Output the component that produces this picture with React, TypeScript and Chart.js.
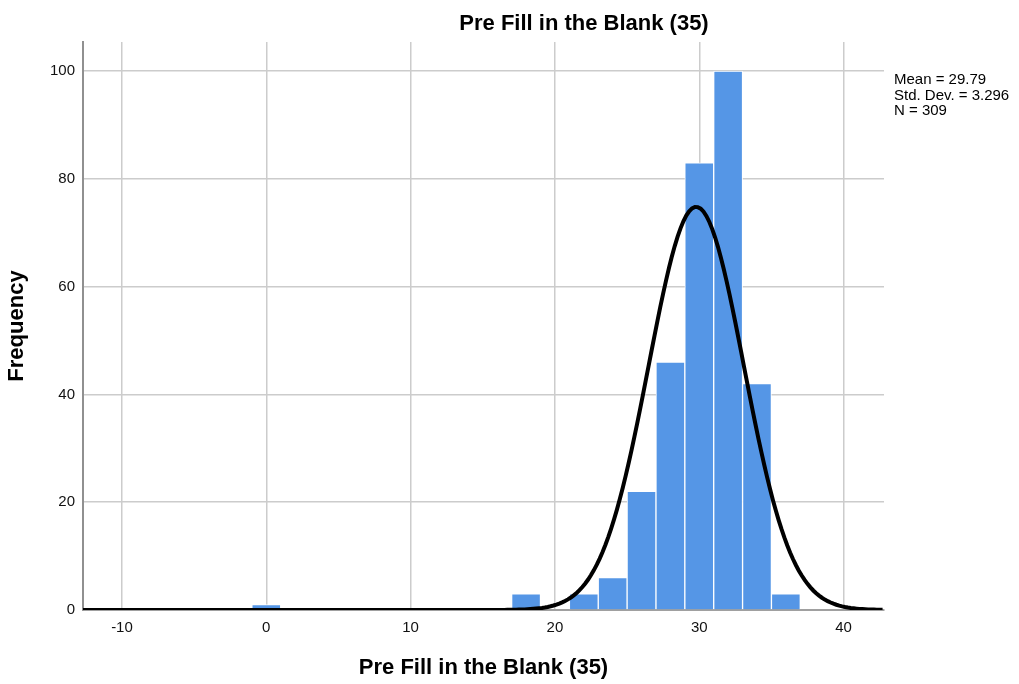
import React, { useEffect, useRef } from "react";
import { Chart, registerables } from "chart.js";

Chart.register(...registerables);

const chartTitle = "Pre Fill in the Blank (35)";
const xAxisTitle = "Pre Fill in the Blank (35)";
const yAxisTitle = "Frequency";
const binCenters = [0, 18, 22, 24, 26, 28, 30, 32, 34, 36];
const binCounts = [1, 3, 3, 6, 22, 46, 83, 100, 42, 3];
const binWidth = 2;
const mean = 29.79;
const stdDev = 3.296;
const n = 309;
const statLines = ["Mean = 29.79", "Std. Dev. = 3.296", "N = 309"];
const xMin = -12.7;
const xMax = 42.8;
const yMax = 105.4;

const FONT = "'Liberation Sans', Arial, sans-serif";

function normalCurve() {
  const pts: { x: number; y: number }[] = [];
  const k = (n * binWidth) / (stdDev * Math.sqrt(2 * Math.PI));
  for (let x = xMin; x <= xMax + 1e-9; x += 0.2) {
    const z = (x - mean) / stdDev;
    pts.push({ x, y: k * Math.exp(-0.5 * z * z) });
  }
  return pts;
}

const textPlugin = {
  id: "spssText",
  afterDraw(chart: any) {
    const ctx = chart.ctx;
    ctx.save();
    ctx.fillStyle = "#000";
    ctx.textBaseline = "alphabetic";
    ctx.textAlign = "center";
    ctx.font = `bold 22px ${FONT}`;
    ctx.fillText(chartTitle, 584, 30);
    ctx.textAlign = "left";
    ctx.font = `15px ${FONT}`;
    statLines.forEach((s, i) => ctx.fillText(s, 894, 84 + i * 15.5));
    ctx.restore();
  },
};

export default function App() {
  const ref = useRef<HTMLCanvasElement>(null);
  useEffect(() => {
    const chart = new Chart(ref.current as HTMLCanvasElement, {
      type: "bar",
      data: {
        datasets: [
          {
            type: "line",
            data: normalCurve(),
            borderColor: "#000",
            borderWidth: 4,
            pointRadius: 0,
            tension: 0,
            order: 0,
          } as any,
          {
            type: "bar",
            data: binCenters.map((x, i) => ({ x, y: binCounts[i] })),
            backgroundColor: "#5596e6",
            borderColor: "#ffffff",
            borderWidth: 1,
            borderSkipped: "bottom",
            barPercentage: 1,
            categoryPercentage: 1,
            order: 1,
          } as any,
        ],
      },
      options: {
        animation: false,
        responsive: false,
        devicePixelRatio: 1,
        layout: { padding: { top: 42, right: 135, bottom: 3, left: 4 } },
        plugins: { legend: { display: false }, tooltip: { enabled: false } },
        scales: {
          x: {
            type: "linear",
            min: xMin,
            max: xMax,
            offset: false,
            grid: { color: "#cccccc", lineWidth: 1.5, drawTicks: false, offset: false },
            border: { color: "#a0a0a0", width: 2 },
            ticks: {
              stepSize: 10,
              includeBounds: false,
              padding: 9,
              color: "#111",
              font: { family: FONT, size: 15 },
            },
            title: {
              display: true,
              text: xAxisTitle,
              color: "#000",
              font: { family: FONT, size: 22, weight: "bold" },
              padding: 0,
            },
            afterFit(scale: any) {
              scale.height = 71;
            },
          },
          y: {
            min: 0,
            max: yMax,
            grid: { color: "#cccccc", lineWidth: 1.5, drawTicks: false },
            border: { color: "#909090", width: 2 },
            ticks: {
              stepSize: 20,
              includeBounds: false,
              padding: 8,
              color: "#111",
              font: { family: FONT, size: 15 },
            },
            title: {
              display: true,
              text: yAxisTitle,
              color: "#000",
              font: { family: FONT, size: 22, weight: "bold" },
              padding: 0,
            },
            afterFit(scale: any) {
              scale.width = 79;
            },
          },
        },
      } as any,
      plugins: [textPlugin],
    });
    return () => chart.destroy();
  }, []);
  return (
    <div style={{ position: "absolute", left: 0, top: 0, width: 1019, height: 684, background: "#fff" }}>
      <canvas ref={ref} width={1019} height={684} />
    </div>
  );
}
